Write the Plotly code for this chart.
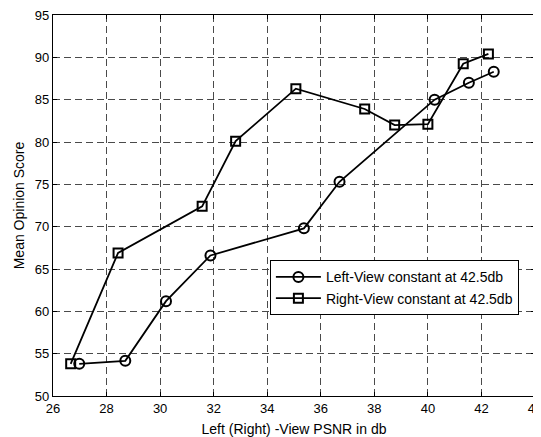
import plotly.graph_objects as go

left_x = [26.98, 28.70, 30.22, 31.88, 35.37, 36.70, 40.25, 41.53, 42.46]
left_y = [53.8, 54.15, 61.2, 66.6, 69.8, 75.3, 85.0, 87.0, 88.3]
right_x = [26.66, 28.43, 31.57, 32.82, 35.07, 37.64, 38.76, 40.00, 41.32, 42.26]
right_y = [53.8, 66.9, 72.4, 80.1, 86.3, 83.9, 82.0, 82.1, 89.25, 90.4]
x_ticks = [26, 28, 30, 32, 34, 36, 38, 40, 42, 44]
y_ticks = [50, 55, 60, 65, 70, 75, 80, 85, 90, 95]

FONT = "Liberation Sans, Arial, Helvetica, sans-serif"

fig = go.Figure()
fig.add_trace(go.Scatter(
    x=left_x, y=left_y, mode="lines+markers", name="Left-View constant at 42.5db",
    line=dict(color="black", width=1.8),
    marker=dict(symbol="circle-open", size=10, color="black", line=dict(width=2, color="black")),
))
fig.add_trace(go.Scatter(
    x=right_x, y=right_y, mode="lines+markers", name="Right-View constant at 42.5db",
    line=dict(color="black", width=1.8),
    marker=dict(symbol="square-open", size=9, color="black", line=dict(width=2, color="black")),
))

axis_common = dict(
    showline=True, linecolor="black", linewidth=1.2, mirror="ticks",
    ticks="inside", ticklen=4, tickcolor="black", tickwidth=1,
    showgrid=True, gridcolor="#4a4a4a", gridwidth=1, griddash="7px,4px",
    zeroline=False, automargin=False, ticklabeloverflow="allow",
    tickfont=dict(family=FONT, size=13, color="black"),
)

fig.update_xaxes(range=[25.9999, 44.0001], tickvals=x_ticks, ticktext=[str(v) for v in x_ticks],
                 title=dict(text="Left (Right) -View PSNR in db", font=dict(family=FONT, size=14, color="black"), standoff=9),
                 **axis_common)
fig.update_yaxes(range=[49.9999, 95.0001], tickvals=y_ticks, ticktext=[str(v) for v in y_ticks],
                 title=dict(text="Mean Opinion Score", font=dict(family=FONT, size=14, color="black"), standoff=6),
                 **axis_common)

fig.update_layout(
    width=533, height=429,
    margin=dict(l=45, r=5.5, t=7, b=40.5),
    paper_bgcolor="white", plot_bgcolor="white",
    font=dict(family=FONT, size=13, color="black"),
    showlegend=True,
    legend=dict(x=0.45, y=0.356, xanchor="left", yanchor="top",
                bgcolor="white", bordercolor="black", borderwidth=1,
                font=dict(family=FONT, size=14, color="black"),
                tracegroupgap=0, itemwidth=45),
)

fig.write_html("out.html")
